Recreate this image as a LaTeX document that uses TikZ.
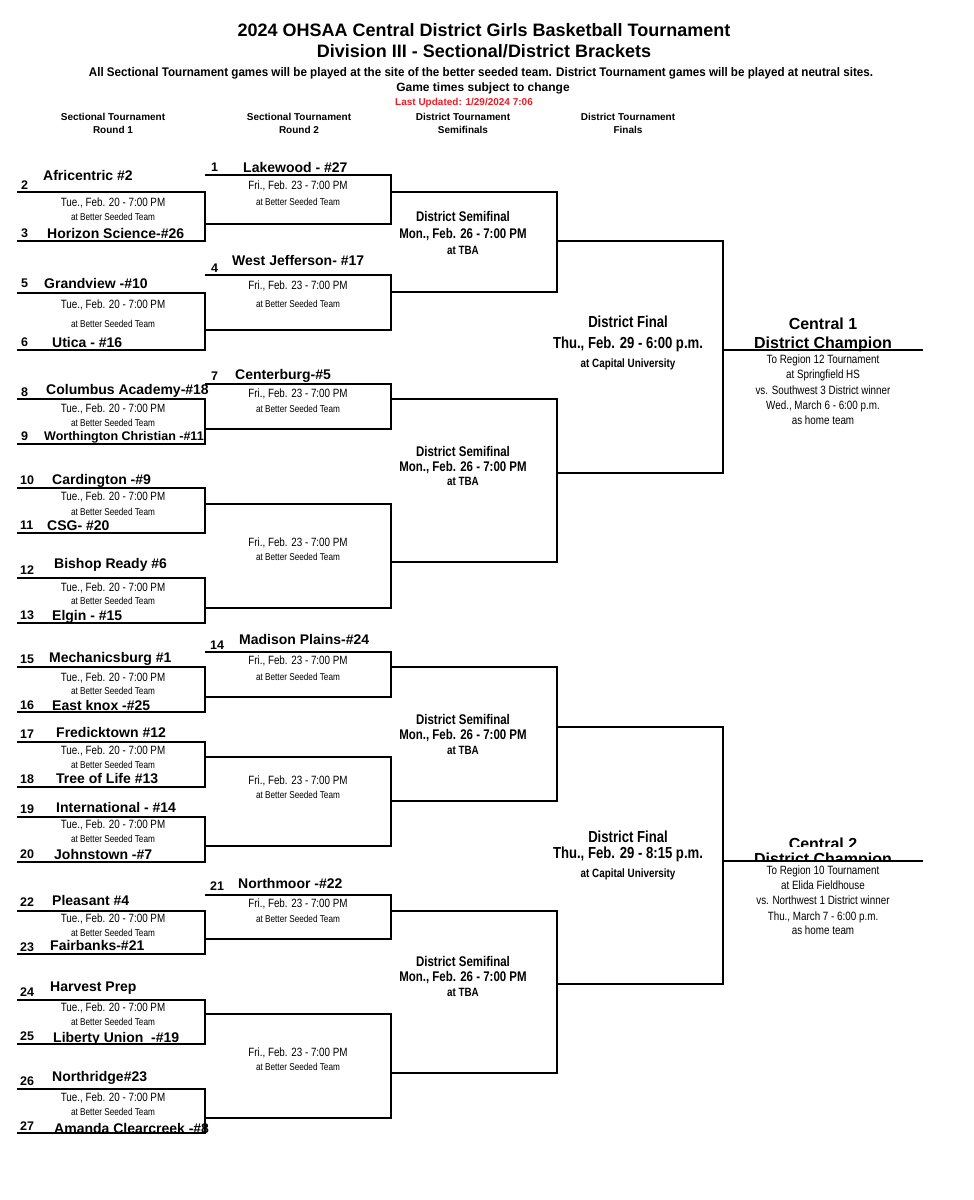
\documentclass[tikz,border=0pt]{standalone}
\usepackage{fontspec}
\setmainfont{Liberation Sans}
\newfontfamily\narrowfont[FakeStretch=0.82]{Liberation Sans}
\newfontfamily\semifont[FakeStretch=0.93]{Liberation Sans}
\definecolor{updred}{RGB}{232,30,38}
\begin{document}
\begin{tikzpicture}[x=1pt,y=-1pt,
  bl/.style={line width=2pt, black, line cap=butt},
  ttl/.style={font=\bfseries\fontsize{18}{20}\selectfont, anchor=base, inner sep=0pt},
  subl/.style={font=\semifont\bfseries\fontsize{12.5}{14}\selectfont, anchor=base, inner sep=0pt},
  gtl/.style={font=\bfseries\fontsize{12}{14}\selectfont, anchor=base, inner sep=0pt},
  upd/.style={font=\bfseries\fontsize{10}{12}\selectfont, text=updred, anchor=base, inner sep=0pt},
  hdr/.style={font=\bfseries\fontsize{10}{12}\selectfont, anchor=base, inner sep=0pt, yshift=-3.6pt},
  team/.style={font=\bfseries\fontsize{14}{16}\selectfont, anchor=base west, inner sep=0pt, yshift=-5pt},
  steam/.style={font=\bfseries\fontsize{12.5}{14}\selectfont, anchor=base west, inner sep=0pt, yshift=-4.5pt},
  seed/.style={font=\bfseries\fontsize{12.5}{14}\selectfont, anchor=base west, inner sep=0pt, yshift=-4.5pt},
  gtime/.style={font=\narrowfont\fontsize{12}{14}\selectfont, anchor=base, inner sep=0pt, yshift=-4.3pt},
  gsite/.style={font=\narrowfont\fontsize{10}{12}\selectfont, anchor=base, inner sep=0pt, yshift=-3.6pt},
  sfa/.style={font=\narrowfont\bfseries\fontsize{14}{16}\selectfont, anchor=base, inner sep=0pt, yshift=-5pt},
  sfc/.style={font=\narrowfont\bfseries\fontsize{12}{14}\selectfont, anchor=base, inner sep=0pt, yshift=-4.3pt},
  fna/.style={font=\narrowfont\bfseries\fontsize{16}{18}\selectfont, anchor=base, inner sep=0pt, yshift=-5.7pt},
  champ/.style={font=\bfseries\fontsize{16}{18}\selectfont, anchor=base, inner sep=0pt},
  reg/.style={font=\narrowfont\fontsize{12}{14}\selectfont, anchor=base, inner sep=0pt, yshift=-4.3pt}
]
\useasboundingbox (0,0) rectangle (974,1200);
\fill[white] (0,0) rectangle (974,1200);

% ---------- header ----------
\node[ttl] (title1) at (484,36) {2024 OHSAA Central District Girls Basketball Tournament};
\node[ttl] (title2) at (484,57) {Division III - Sectional/District Brackets};
\node[subl] (note) at (481,76) {All Sectional Tournament games will be played at the site of the better seeded team. District Tournament games will be played at neutral sites.};
\node[gtl] (gtimes) at (483,91) {Game times subject to change};
\node[upd] (updated) at (464,105) {Last Updated: 1/29/2024 7:06};
\node[hdr] (h1a) at (113,117) {Sectional Tournament};
\node[hdr] (h1b) at (113,130) {Round 1};
\node[hdr] (h2a) at (299,117) {Sectional Tournament};
\node[hdr] (h2b) at (299,130) {Round 2};
\node[hdr] (h3a) at (463,117) {District Tournament};
\node[hdr] (h3b) at (463,130) {Semifinals};
\node[hdr] (h4a) at (628,117) {District Tournament};
\node[hdr] (h4b) at (628,130) {Finals};

% ---------- Round 1 texts ----------
\node[seed] (s2) at (21,185) {2};   \node[team] (t2) at (43,175) {Africentric \#2};
\node[gtime] (g1t) at (113,202) {Tue., Feb. 20 - 7:00 PM}; \node[gsite] (g1s) at (113,217) {at Better Seeded Team};
\node[seed] (s3) at (21,233) {3};   \node[team] (t3) at (47,233) {Horizon Science-\#26};

\node[seed] (s5) at (21,283) {5};   \node[team] (t5) at (44,283) {Grandview -\#10};
\node[gtime] (g2t) at (113,304) {Tue., Feb. 20 - 7:00 PM}; \node[gsite] (g2s) at (113,324) {at Better Seeded Team};
\node[seed] (s6) at (21,342) {6};   \node[team] (t6) at (52,342) {Utica - \#16};

\node[seed] (s8) at (21,392) {8};   \node[team] (t8) at (46,389) {Columbus Academy-\#18};
\node[gtime] (g3t) at (113,408) {Tue., Feb. 20 - 7:00 PM}; \node[gsite] (g3s) at (113,423) {at Better Seeded Team};
\node[seed] (s9) at (21,436) {9};   \node[steam] (t9) at (44,436) {Worthington Christian -\#11};

\node[seed] (s10) at (20,480) {10}; \node[team] (t10) at (52,479) {Cardington -\#9};
\node[gtime] (g4t) at (113,496) {Tue., Feb. 20 - 7:00 PM}; \node[gsite] (g4s) at (113,512) {at Better Seeded Team};
\node[seed] (s11) at (20,525) {11}; \node[team] (t11) at (47,525) {CSG- \#20};

\node[seed] (s12) at (20,570) {12}; \node[team] (t12) at (54,563) {Bishop Ready \#6};
\node[gtime] (g5t) at (113,587) {Tue., Feb. 20 - 7:00 PM}; \node[gsite] (g5s) at (113,601) {at Better Seeded Team};
\node[seed] (s13) at (20,615) {13}; \node[team] (t13) at (52,615) {Elgin - \#15};

\node[seed] (s15) at (20,659) {15}; \node[team] (t15) at (49,657) {Mechanicsburg \#1};
\node[gtime] (g6t) at (113,677) {Tue., Feb. 20 - 7:00 PM}; \node[gsite] (g6s) at (113,691) {at Better Seeded Team};
\node[seed] (s16) at (20,705) {16}; \node[team] (t16) at (52,705) {East knox -\#25};

\node[seed] (s17) at (20,734) {17}; \node[team] (t17) at (56,732) {Fredicktown \#12};
\node[gtime] (g7t) at (113,750) {Tue., Feb. 20 - 7:00 PM}; \node[gsite] (g7s) at (113,765) {at Better Seeded Team};
\node[seed] (s18) at (20,779) {18}; \node[team] (t18) at (56,778) {Tree of Life \#13};

\node[seed] (s19) at (20,809) {19}; \node[team] (t19) at (56,807) {International - \#14};
\node[gtime] (g8t) at (113,824) {Tue., Feb. 20 - 7:00 PM}; \node[gsite] (g8s) at (113,839) {at Better Seeded Team};
\node[seed] (s20) at (20,854) {20}; \node[team] (t20) at (54,854) {Johnstown -\#7};

\node[seed] (s22) at (20,902) {22}; \node[team] (t22) at (52,900) {Pleasant \#4};
\node[gtime] (g9t) at (113,918) {Tue., Feb. 20 - 7:00 PM}; \node[gsite] (g9s) at (113,933) {at Better Seeded Team};
\node[seed] (s23) at (20,947) {23}; \node[team] (t23) at (50,945) {Fairbanks-\#21};

\node[seed] (s24) at (20,992) {24}; \node[team] (t24) at (50,986) {Harvest Prep};
\node[gtime] (g10t) at (113,1007) {Tue., Feb. 20 - 7:00 PM}; \node[gsite] (g10s) at (113,1022) {at Better Seeded Team};
\node[seed] (s25) at (20,1036) {25}; \node[team] (t25) at (53,1037) {Liberty Union\ \ -\#19};

\node[seed] (s26) at (20,1081) {26}; \node[team] (t26) at (52,1076) {Northridge\#23};
\node[gtime] (g11t) at (113,1097) {Tue., Feb. 20 - 7:00 PM}; \node[gsite] (g11s) at (113,1112) {at Better Seeded Team};
\node[seed] (s27) at (20,1126) {27}; \node[team] (t27) at (54,1128) {Amanda Clearcreek -\#8};

% ---------- Round 2 texts ----------
\node[seed] (s1) at (211,167) {1};  \node[team] (t1) at (243,167) {Lakewood - \#27};
\node[gtime] (r1t) at (298,185) {Fri., Feb. 23 - 7:00 PM}; \node[gsite] (r1s) at (298,202) {at Better Seeded Team};
\node[seed] (s4) at (211,268) {4};  \node[team] (t4) at (232,260) {West Jefferson- \#17};
\node[gtime] (r2t) at (298,285) {Fri., Feb. 23 - 7:00 PM}; \node[gsite] (r2s) at (298,304) {at Better Seeded Team};
\node[seed] (s7) at (211,376) {7};  \node[team] (t7) at (235,374) {Centerburg-\#5};
\node[gtime] (r3t) at (298,393) {Fri., Feb. 23 - 7:00 PM}; \node[gsite] (r3s) at (298,409) {at Better Seeded Team};
\node[gtime] (r4t) at (298,542) {Fri., Feb. 23 - 7:00 PM}; \node[gsite] (r4s) at (298,557) {at Better Seeded Team};
\node[seed] (s14) at (210,645) {14}; \node[team] (t14) at (239,639) {Madison Plains-\#24};
\node[gtime] (r5t) at (298,660) {Fri., Feb. 23 - 7:00 PM}; \node[gsite] (r5s) at (298,677) {at Better Seeded Team};
\node[gtime] (r6t) at (298,780) {Fri., Feb. 23 - 7:00 PM}; \node[gsite] (r6s) at (298,795) {at Better Seeded Team};
\node[seed] (s21) at (210,886) {21}; \node[team] (t21) at (238,883) {Northmoor -\#22};
\node[gtime] (r7t) at (298,903) {Fri., Feb. 23 - 7:00 PM}; \node[gsite] (r7s) at (298,919) {at Better Seeded Team};
\node[gtime] (r8t) at (298,1052) {Fri., Feb. 23 - 7:00 PM}; \node[gsite] (r8s) at (298,1067) {at Better Seeded Team};

% ---------- District semifinals ----------
\node[sfa] (sf1a) at (463,216) {District Semifinal};
\node[sfa] (sf1b) at (463,233) {Mon., Feb. 26 - 7:00 PM};
\node[sfc] (sf1c) at (463,250) {at TBA};
\node[sfa] (sf2a) at (463,451) {District Semifinal};
\node[sfa] (sf2b) at (463,466) {Mon., Feb. 26 - 7:00 PM};
\node[sfc] (sf2c) at (463,481) {at TBA};
\node[sfa] (sf3a) at (463,719) {District Semifinal};
\node[sfa] (sf3b) at (463,734) {Mon., Feb. 26 - 7:00 PM};
\node[sfc] (sf3c) at (463,750) {at TBA};
\node[sfa] (sf4a) at (463,961) {District Semifinal};
\node[sfa] (sf4b) at (463,976) {Mon., Feb. 26 - 7:00 PM};
\node[sfc] (sf4c) at (463,992) {at TBA};

% ---------- District finals ----------
\node[fna] (f1a) at (628,322) {District Final};
\node[fna] (f1b) at (628,343) {Thu., Feb. 29 - 6:00 p.m.};
\node[sfc] (f1c) at (628,363) {at Capital University};
\node[fna] (f2a) at (628,837) {District Final};
\node[fna] (f2b) at (628,853) {Thu., Feb. 29 - 8:15 p.m.};
\node[sfc] (f2c) at (628,873) {at Capital University};

% ---------- Champions ----------
\node[champ] (c1a) at (823,329) {Central 1};
\node[champ] (c1b) at (823,348) {District Champion};
\node[reg] (c1r1) at (823,359) {To Region 12 Tournament};
\node[reg] (c1r2) at (823,374) {at Springfield HS};
\node[reg] (c1r3) at (823,390) {vs. Southwest 3 District winner};
\node[reg] (c1r4) at (823,405) {Wed., March 6 - 6:00 p.m.};
\node[reg] (c1r5) at (823,420) {as home team};

\begin{scope}
  \clip (700,826) rectangle (950,846);
  \node[champ] (c2a) at (823,849) {Central 2};
\end{scope}
\begin{scope}
  \clip (700,846) rectangle (950,860);
  \node[champ] (c2b) at (823,864) {District Champion};
\end{scope}
\node[reg] (c2r1) at (823,870) {To Region 10 Tournament};
\node[reg] (c2r2) at (823,885) {at Elida Fieldhouse};
\node[reg] (c2r3) at (823,900) {vs. Northwest 1 District winner};
\node[reg] (c2r4) at (823,916) {Thu., March 7 - 6:00 p.m.};
\node[reg] (c2r5) at (823,930) {as home team};

% ---------- bracket lines ----------
% Round 1 boxes (x 17 -> 205)
\foreach \yt/\yb in {192/241, 293/350, 399/444, 488/533, 578/623, 667/712, 742/787, 817/862, 911/954, 1000/1044, 1089/1133}
  \draw[bl] (17,\yt) -- (205,\yt) -- (205,\yb) -- (17,\yb);
% Round 2 boxes (x 205 -> 391)
\foreach \yt/\yb in {175/224, 275/330, 384/429, 504/608, 652/697, 757/846, 895/939, 1014/1118}
  \draw[bl] (205,\yt) -- (391,\yt) -- (391,\yb) -- (205,\yb);
% District semifinal boxes (x 391 -> 557)
\foreach \yt/\yb in {192/292, 399/562, 667/801, 911/1073}
  \draw[bl] (391,\yt) -- (557,\yt) -- (557,\yb) -- (391,\yb);
% District final boxes (x 557 -> 723)
\foreach \yt/\yb in {241/473, 727/984}
  \draw[bl] (557,\yt) -- (723,\yt) -- (723,\yb) -- (557,\yb);
% Champion lines
\coordinate (ch1s) at (723,350); \coordinate (ch1e) at (923,350);
\coordinate (ch2s) at (723,861); \coordinate (ch2e) at (923,861);
\draw[bl] (ch1s) -- (ch1e);
\draw[bl] (ch2s) -- (ch2e);
\end{tikzpicture}
\end{document}
